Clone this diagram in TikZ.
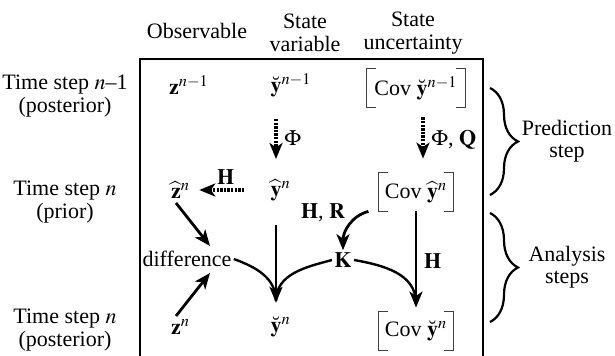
\documentclass[tikz,border=0pt]{standalone}
\usepackage{mathptmx}
\usepackage[no-math]{fontspec}
\setmainfont{Liberation Serif}
\usetikzlibrary{arrows.meta,decorations.pathreplacing}

\tikzset{
	lbl/.style={align=center,inner sep=1pt},
	var/.style={inner sep=1pt},
	flow/.style={line width=1.4pt,-{Stealth[length=8pt,width=6.5pt,inset=2.2pt]}},
	pred/.style={flow,line width=1.6pt,dash pattern=on 1.2pt off 0.6pt},
	merge/.style={line width=1.2pt},
	covbox/.style={inner xsep=3pt,minimum height=19pt},
	brk/.style={line width=0.5pt,draw=black!75},
	curly/.style={line width=1.1pt,decorate,decoration={brace,amplitude=14pt}}
}
% brackets around a covariance node
\newcommand{\covbrackets}[1]{
	\draw[brk] ([xshift=5pt]#1.north west) -- (#1.north west) -- (#1.south west) -- ([xshift=5pt]#1.south west);
	\draw[brk] ([xshift=-5pt]#1.north east) -- (#1.north east) -- (#1.south east) -- ([xshift=-5pt]#1.south east);
}

\begin{document}
\begin{tikzpicture}[x=0.5pt,y=-0.5pt,font=\fontsize{11}{11.2}\selectfont]
	\useasboundingbox (0,0) rectangle (615,356);
	% headers
	\node[lbl] (hobs) at (197,31) {Observable};
	\node[lbl] (hvar) at (305,33) {State\\variable};
	\node[lbl] (hunc) at (413,33) {State\\uncertainty};
	\node[lbl] (tprev) at (65,96) {Time step $n$–1\\(posterior)};
	\node[lbl] (tprior) at (65,202) {Time step $n$\\(prior)};
	\node[lbl] (tpost) at (65,330) {Time step $n$\\(posterior)};
	\draw[line width=0.6pt] (140,356) -- (140,59) -- (483,59) -- (483,356);
	% variables
	\node[var] (zprev) at (174,85) {$\mathbf{z}\rlap{$^{n-1}$}$};
	\node[var] (zhat) at (176,190) {$\widehat{\mathbf{z}}\rlap{$^{n}$}$};
	\node[var] (zpost) at (176,327) {$\mathbf{z}\rlap{$^{n}$}$};
	\node[var] (yprev) at (276,85) {$\breve{\mathbf{y}}\rlap{$^{n-1}$}$};
	\node[var] (yhat) at (276,190) {$\widehat{\mathbf{y}}\rlap{$^{n}$}$};
	\node[var] (ypost) at (276,327) {$\breve{\mathbf{y}}\rlap{$^{n}$}$};
	\node[covbox,inner xsep=4pt] (covprev) at (416,88) {Cov $\breve{\mathbf{y}}^{n-1}$};
	\node[covbox] (covhat) at (416,192) {Cov $\widehat{\mathbf{y}}^{n}$};
	\node[covbox] (covpost) at (416,331) {Cov $\breve{\mathbf{y}}^{n}$};
	\covbrackets{covprev}
	\covbrackets{covhat}
	\covbrackets{covpost}
	\node[var] (diff) at (187,259) {difference};
	\node[var] (K) at (343,260) {$\mathbf{K}$};
	% prediction
	\draw[pred,shorten <=10pt,shorten >=9pt] (yprev) -- node[right] {$\Phi$} (yhat);
	\draw[pred,shorten <=5pt,shorten >=7pt] ([xshift=3.5pt]covprev.south) -- node[right] {$\Phi$, $\mathbf{Q}$} ([xshift=3.5pt]covhat.north);
	\draw[pred,shorten <=12pt,shorten >=8pt] (yhat) -- node[above=-1.5pt] {$\mathbf{H}$} (zhat);
	% analysis
	\draw[flow] ([yshift=-6.5pt]zhat.center) -- ([xshift=11.5pt,yshift=6.5pt]diff.center);
	\draw[flow] ([yshift=5.5pt]zpost.center) -- ([xshift=11.5pt,yshift=-7pt]diff.center);
	\draw[flow,shorten <=11pt,shorten >=6pt] (yhat) -- (ypost);
	\draw[merge] (diff.east) to[out=-20,in=90] ([yshift=13pt]ypost.center);
	\draw[merge] (K.west) to[out=195,in=90] ([yshift=13pt]ypost.center);
	\draw[flow] ([xshift=-5pt]covhat.south west) to[out=195,in=90] node[above left=-2pt] {$\mathbf{H}$, $\mathbf{R}$} (K.north);
	\draw[flow,shorten >=2pt] (covhat.south) -- node[right] {$\mathbf{H}$} (covpost.north);
	\draw[merge] (K.east) to[out=-10,in=90] ([yshift=14pt]covpost.center);
	% steps
	\draw[curly] (490,88) -- (490,195);
	\draw[curly] (490,213) -- (490,322);
	\node[lbl] (pred) at (567,141) {Prediction\\step};
	\node[lbl] (ana) at (567,267) {Analysis\\steps};
\end{tikzpicture}
\end{document}
